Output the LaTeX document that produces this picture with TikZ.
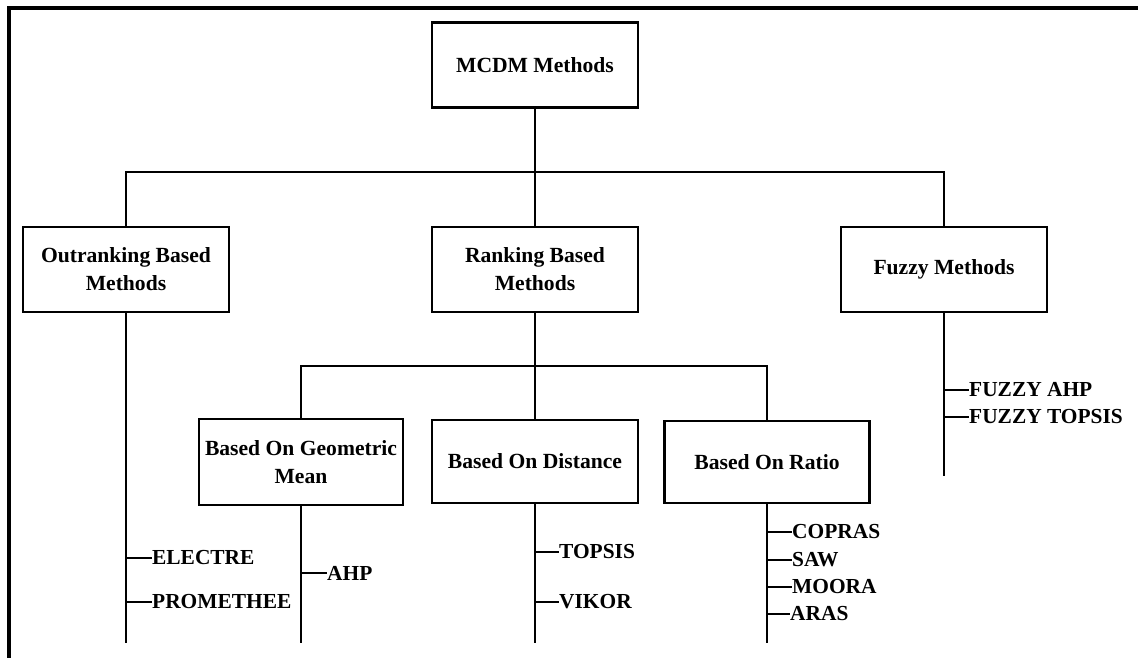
\documentclass[tikz,border=0pt]{standalone}
\usepackage{fontspec}
\setmainfont{Liberation Serif}
\begin{document}
\begin{tikzpicture}[x=1pt,y=-1pt,
  box/.style={draw,line width=2.8pt,minimum width=206pt,minimum height=85pt,align=center,
    font=\fontsize{21.6}{28}\selectfont\bfseries,inner sep=2pt},
  item/.style={anchor=west,inner sep=0pt,font=\fontsize{21.4}{25}\selectfont\bfseries},
  ln/.style={line width=2.8pt}]
\useasboundingbox (0,0) rectangle (1138,658);
\draw[line width=3.5pt] (9,660) -- (9,8) -- (1140,8);

% boxes
\node[box] (mcdm) at (535,65) {MCDM Methods};
\node[box] (out) at (126,269.5) {Outranking Based\\Methods};
\node[box] (rank) at (535,269.5) {Ranking Based\\Methods};
\node[box] (fuzzy) at (944,269.5) {Fuzzy Methods};
\node[box,minimum width=204pt,minimum height=86pt] (geo) at (301,462) {Based On Geometric\\Mean};
\node[box,minimum height=83pt] (dist) at (535,461.5) {Based On Distance};
\node[box,minimum height=82pt,minimum width=205pt] (ratio) at (767,462) {Based On Ratio};

% top level connectors
\coordinate (j1) at (535,172);
\draw[ln] (mcdm.south) -- (j1);
\draw[ln] (out.north) |- (j1) -| (fuzzy.north);
\draw[ln] (j1) -- (rank.north);

% second level connectors
\coordinate (j2) at (535,366);
\draw[ln] (rank.south) -- (j2);
\draw[ln] (geo.north) |- (j2) -| (ratio.north);
\draw[ln] (j2) -- (dist.north);

% vertical trunks
\coordinate (oend) at (126,643);
\coordinate (gend) at (301,643);
\coordinate (dend) at (535,643);
\coordinate (rend) at (767,643);
\coordinate (fend) at (944,476);
\draw[ln] (out.south) -- (oend);
\draw[ln] (geo.south) -- (gend);
\draw[ln] (dist.south) -- (dend);
\draw[ln] (ratio.south) -- (rend);
\draw[ln] (fuzzy.south) -- (fend);

% outranking items
\coordinate (o1) at (126,558);
\coordinate (o2) at (126,602);
\node[item] (electre) at (152,558) {ELECTRE};
\node[item] (prom) at (152,602) {PROMETHEE};
\draw[ln] (o1) -- (electre.west);
\draw[ln] (o2) -- (prom.west);

% geometric items
\coordinate (g1) at (301,573);
\node[item] (ahp) at (327,573) {AHP};
\draw[ln] (g1) -- (ahp.west);

% distance items
\coordinate (d1) at (535,552);
\coordinate (d2) at (535,602);
\node[item] (topsis) at (559,552) {TOPSIS};
\node[item] (vikor) at (559,602) {VIKOR};
\draw[ln] (d1) -- (topsis.west);
\draw[ln] (d2) -- (vikor.west);

% ratio items
\coordinate (r1) at (767,532);
\coordinate (r2) at (767,560);
\coordinate (r3) at (767,587);
\coordinate (r4) at (767,614);
\node[item] (copras) at (792,532) {COPRAS};
\node[item] (saw) at (792,560) {SAW};
\node[item] (moora) at (792,587) {MOORA};
\node[item] (aras) at (790,614) {ARAS};
\draw[ln] (r1) -- (copras.west);
\draw[ln] (r2) -- (saw.west);
\draw[ln] (r3) -- (moora.west);
\draw[ln] (r4) -- (aras.west);

% fuzzy items
\coordinate (f1) at (944,390);
\coordinate (f2) at (944,417);
\node[item] (fahp) at (969,390) {FUZZY AHP};
\node[item] (ftop) at (969,417) {FUZZY TOPSIS};
\draw[ln] (f1) -- (fahp.west);
\draw[ln] (f2) -- (ftop.west);
\end{tikzpicture}
\end{document}
